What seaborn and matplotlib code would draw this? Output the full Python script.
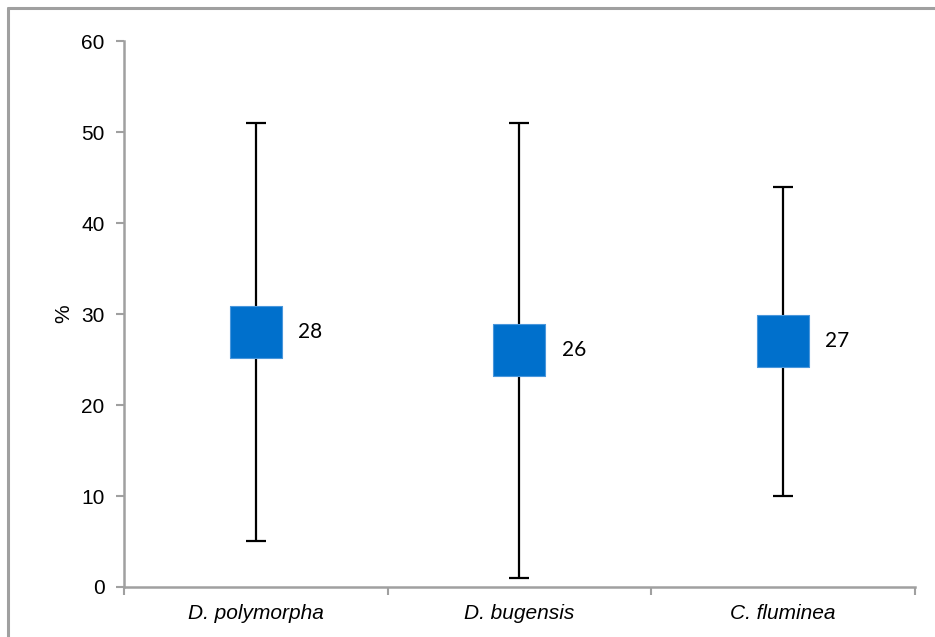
import numpy as np
import pandas as pd
import matplotlib.pyplot as plt
import seaborn as sns
from matplotlib.lines import Line2D

species = ['D. polymorpha', 'D. bugensis', 'C. fluminea']
mean_pct = [28, 26, 27]
min_pct = [5, 1, 10]
max_pct = [51, 51, 44]

df = pd.DataFrame({'species': species, 'mean': mean_pct,
                   'lo': min_pct, 'hi': max_pct})
df['x'] = np.arange(len(df))

sns.set_theme(style='white')
plt.rcParams['font.family'] = ['Liberation Sans', 'DejaVu Sans']
plt.rcParams['text.color'] = 'black'
plt.rcParams['axes.labelcolor'] = 'black'
plt.rcParams['xtick.labelcolor'] = 'black'
plt.rcParams['ytick.labelcolor'] = 'black'

fig = plt.figure(figsize=(9.35, 6.37), dpi=100)
ax = fig.add_axes([0.1326, 0.0785, 0.846, 0.8571])

# min-max range bars
ax.errorbar(df['x'], df['mean'],
            yerr=[df['mean'] - df['lo'], df['hi'] - df['mean']],
            fmt='none', ecolor='black', elinewidth=1.6,
            capsize=7, capthick=1.6, zorder=2)

sns.scatterplot(data=df, x='x', y='mean', marker='s', s=37.5**2,
                color='#0070CC', edgecolor='#4A97DC', linewidth=0.8,
                ax=ax, zorder=3, legend=False)

for xi, m in zip(df['x'], df['mean']):
    ax.text(xi + 0.16, m, f'{m}', va='center', ha='left',
            fontsize=15, family=['Lato', 'DejaVu Sans'], color='black')

ax.set_xlim(-0.5, 2.5)
ax.set_ylim(0, 60)
ax.set_yticks(range(0, 61, 10))
ax.set_xticks([-0.5, 0.5, 1.5, 2.5])
ax.set_xticklabels([])
ax.set_xticks(df['x'], minor=True)
ax.set_xticklabels(species, minor=True, style='italic', fontsize=15)
ax.tick_params(axis='x', which='minor', length=0, pad=12)
ax.tick_params(axis='x', which='major', length=6, width=1.5,
               color='#A0A0A0', direction='out', bottom=True)
ax.tick_params(axis='y', length=6, width=1.5, color='#A0A0A0',
               direction='out', left=True, labelsize=15, pad=8)
ax.set_xlabel('')
ax.set_ylabel('%', fontsize=15, labelpad=6)

for s in ['top', 'right']:
    ax.spines[s].set_visible(False)
for s in ['left', 'bottom']:
    ax.spines[s].set_color('#A0A0A0')
    ax.spines[s].set_linewidth(1.8)

# outer chart frame
fig.add_artist(Line2D([0.009, 1.0], [0.987, 0.987], color='#A0A0A0',
                      lw=2.2, transform=fig.transFigure))
fig.add_artist(Line2D([0.009, 0.009], [0.0, 0.987], color='#A0A0A0',
                      lw=2.2, transform=fig.transFigure))

fig.savefig('out.png', dpi=100)
